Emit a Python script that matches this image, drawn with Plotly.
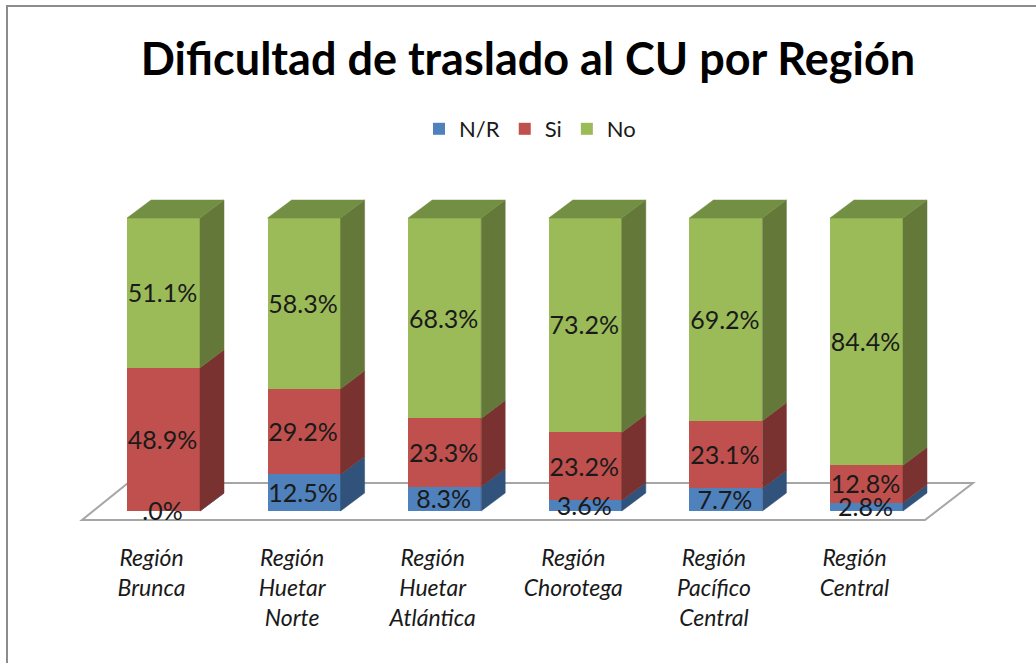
import plotly.graph_objects as go

# ---- data ----
categories = ["Región Brunca", "Región Huetar Norte", "Región Huetar Atlántica",
              "Región Chorotega", "Región Pacífico Central", "Región Central"]
tick_labels = ["Región<br>Brunca", "Región<br>Huetar<br>Norte", "Región<br>Huetar<br>Atlántica",
               "Región<br>Chorotega", "Región<br>Pacífico<br>Central", "Región<br>Central"]
nr_values = [0.0, 12.5, 8.3, 3.6, 7.7, 2.8]
si_values = [48.9, 29.2, 23.3, 23.2, 23.1, 12.8]
no_values = [51.1, 58.3, 68.3, 73.2, 69.2, 84.4]

series_names = ["N/R", "Si", "No"]
series_values = [nr_values, si_values, no_values]
front_colors = ["#4F81BD", "#C0504D", "#9BBB59"]
side_colors = ["#31527A", "#7A3230", "#64783A"]
top_color = "#728F43"

# ---- geometry ----
W, H = 1036, 663
L, R, T, B = 60, 1000, 190, 530
PX0, PX_STEP = 163.5, 140.6      # pixel of category 0, pixels per category
PY0, PY_100 = 511, 218           # pixel of 0 %, pixel of 100 %
K = 100 / (PY0 - PY_100)         # percent per pixel
BAR_W = 73 / PX_STEP
DX, DY = 24 / PX_STEP, 18 * K
LABEL_SHIFT = 3 * K              # labels sit slightly under the segment centre

def xp(px):
    return (px - PX0) / PX_STEP

def yp(py):
    return (PY0 - py) * K

xs = list(range(len(categories)))
fig = go.Figure()

# front faces
for name, vals, col in zip(series_names, series_values, front_colors):
    fig.add_trace(go.Bar(x=xs, y=vals, name=name, width=BAR_W, marker=dict(color=col, line=dict(width=0)),
                         hoverinfo="skip"))

# side + top faces, derived from the stacks
base = [0.0] * len(xs)
for idx, (vals, col) in enumerate(zip(series_values, side_colors)):
    px_, py_ = [], []
    for i, v in enumerate(vals):
        x1 = xs[i] + BAR_W / 2
        b, t = base[i], base[i] + v
        if idx == 2:
            t = 100.0
        px_ += [x1, x1 + DX, x1 + DX, x1, x1, None]
        py_ += [b, b + DY, t + DY, t, b, None]
    fig.add_trace(go.Scatter(x=px_, y=py_, mode="lines", fill="toself", fillcolor=col,
                             line=dict(width=0.5, color=col), showlegend=False, hoverinfo="skip"))
    base = [a + v for a, v in zip(base, vals)]

tx, ty = [], []
for x in xs:
    x0, x1 = x - BAR_W / 2, x + BAR_W / 2
    tx += [x0, x0 + DX, x1 + DX, x1, x0, None]
    ty += [100, 100 + DY, 100 + DY, 100, 100, None]
fig.add_trace(go.Scatter(x=tx, y=ty, mode="lines", fill="toself", fillcolor=top_color,
                         line=dict(width=0.5, color=top_color), showlegend=False, hoverinfo="skip"))

# data labels
base = [0.0] * len(xs)
for vals in series_values:
    labels = [f"{v:.1f}%" if v else ".0%" for v in vals]
    fig.add_trace(go.Scatter(x=[x - 1 / PX_STEP for x in xs],
                             y=[b + v / 2 - LABEL_SHIFT for b, v in zip(base, vals)],
                             mode="text", text=labels, textposition="middle center",
                             textfont=dict(family="Lato", size=25, color="#1a1a1a"),
                             showlegend=False, hoverinfo="skip"))
    base = [a + v for a, v in zip(base, vals)]

floor_path = f"M{xp(82)},{yp(520)} L{xp(925)},{yp(520)} L{xp(973)},{yp(483)} L{xp(128)},{yp(483)} Z"

fig.update_layout(
    width=W, height=H,
    margin=dict(l=L, r=W - R, t=T, b=H - B, pad=0),
    paper_bgcolor="white", plot_bgcolor="rgba(0,0,0,0)",
    barmode="stack", showlegend=True,
    font=dict(family="Lato", color="#1a1a1a"),
    title=dict(text="<b>Dificultad de traslado al CU por Región</b>",
               x=528 / W, xanchor="center", y=1 - 59 / H, yanchor="middle",
               font=dict(family="Lato", size=45, color="black")),
    legend=dict(orientation="h", x=530 / W, xref="container", xanchor="center",
                y=1 - 129 / H, yref="container", yanchor="middle", traceorder="normal",
                font=dict(family="Lato", size=22, color="#1a1a1a"), itemclick=False, itemdoubleclick=False),
    xaxis=dict(range=[xp(L), xp(R)], tickmode="array", tickvals=[x - 12 / PX_STEP for x in xs],
               ticktext=tick_labels, showgrid=False, zeroline=False, showline=False, ticks="",
               ticklabelstandoff=12, tickangle=0,
               tickfont=dict(family="Lato", size=23, color="#1a1a1a", style="italic")),
    yaxis=dict(range=[yp(B), yp(T)], visible=False),
    shapes=[
        dict(type="path", path=floor_path, xref="x", yref="y", layer="below",
             line=dict(color="#A6A6A6", width=2), fillcolor="white"),
        dict(type="rect", xref="paper", yref="paper", layer="below",
             x0=(7 - L) / (R - L), x1=(W + 20 - L) / (R - L),
             y0=(B - (H + 20)) / (B - T), y1=(B - 6) / (B - T),
             line=dict(color="#8C8C8C", width=2), fillcolor="rgba(0,0,0,0)"),
    ],
)

fig.write_html("out.html", config={"displayModeBar": False},
               post_script="document.body.style.margin='0';")
